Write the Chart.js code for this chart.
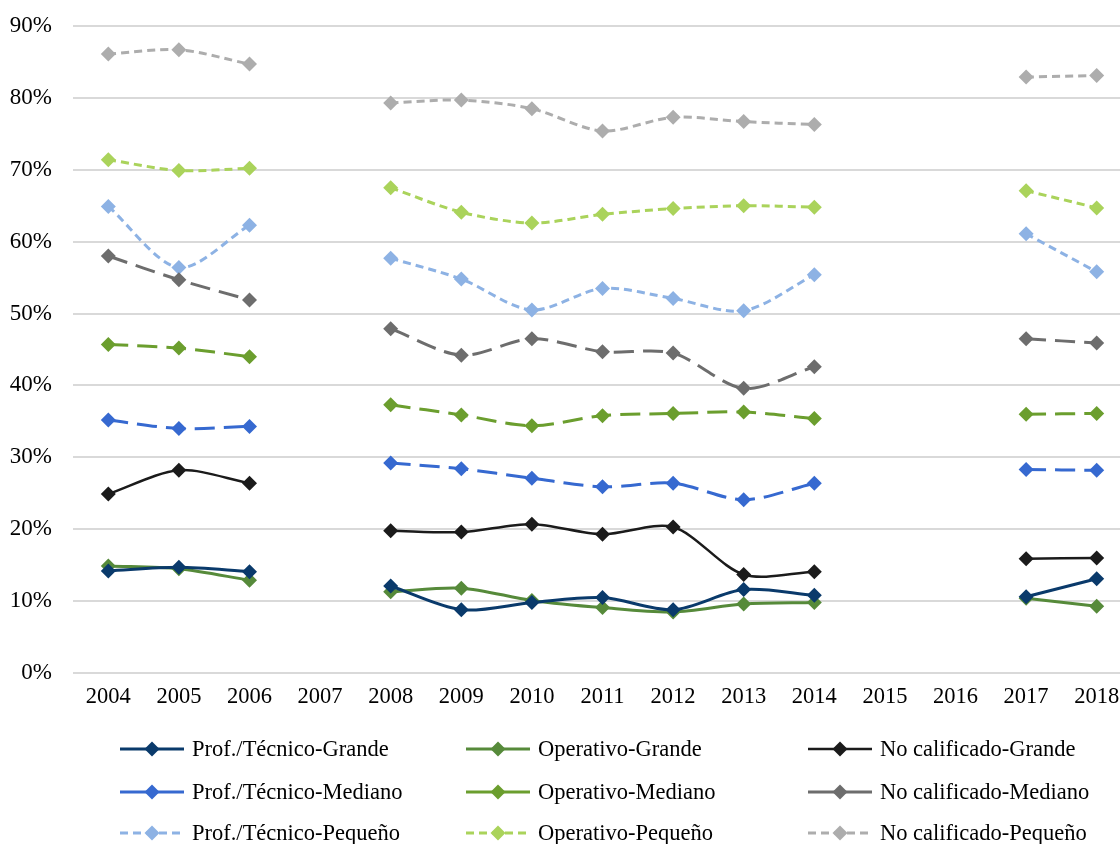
<!DOCTYPE html>
<html>
<head>
<meta charset="utf-8">
<script src="https://cdn.jsdelivr.net/npm/chart.js@4"></script>
<style>
  html, body { margin: 0; padding: 0; background: #fff; overflow: hidden; }
  #grafico { display: block; }
</style>
</head>
<body>
<canvas id="grafico" width="1160" height="844"></canvas>
<script>
// Años (sin datos en 2007, 2015 y 2016)
const anios = ["2004", "2005", "2006", "2007", "2008", "2009", "2010", "2011", "2012", "2013", "2014", "2015", "2016", "2017", "2018"];

// Porcentajes por ocupación y tamaño de empresa
const profGrande     = [14.2, 14.7, 14.1, null, 12.1, 8.8, 9.8, 10.5, 8.8, 11.6, 10.8, null, null, 10.6, 13.1];
const operGrande     = [14.9, 14.5, 12.9, null, 11.3, 11.8, 10.1, 9.1, 8.5, 9.6, 9.8, null, null, 10.4, 9.3];
const noCalGrande    = [24.9, 28.2, 26.4, null, 19.8, 19.6, 20.7, 19.3, 20.3, 13.7, 14.1, null, null, 15.9, 16.0];
const profMediano    = [35.2, 34.0, 34.3, null, 29.2, 28.4, 27.1, 25.9, 26.4, 24.1, 26.4, null, null, 28.3, 28.2];
const operMediano    = [45.7, 45.2, 44.0, null, 37.3, 35.9, 34.4, 35.8, 36.1, 36.3, 35.4, null, null, 36.0, 36.1];
const noCalMediano   = [58.0, 54.7, 51.9, null, 47.9, 44.2, 46.5, 44.7, 44.5, 39.6, 42.6, null, null, 46.5, 45.9];
const profPequeno    = [64.9, 56.4, 62.3, null, 57.7, 54.8, 50.5, 53.5, 52.1, 50.4, 55.4, null, null, 61.1, 55.8];
const operPequeno    = [71.4, 69.9, 70.2, null, 67.5, 64.1, 62.6, 63.8, 64.6, 65.0, 64.8, null, null, 67.1, 64.7];
const noCalPequeno   = [86.1, 86.7, 84.7, null, 79.3, 79.7, 78.5, 75.4, 77.3, 76.7, 76.3, null, null, 82.9, 83.1];

const fuente = "'Liberation Serif', 'Times New Roman', serif";

const serie = (label, data, color, dash) => ({
    label: label,
    data: data,
    borderColor: color,
    backgroundColor: color,
    borderWidth: 3,
    borderDash: dash,
    pointStyle: "rectRot",
    pointRadius: 7.5,
    pointHoverRadius: 7.5,
    pointBorderWidth: 0,
    tension: 0.3,
    spanGaps: false
});

const dashMediano = [20, 9];
const dashPequeno = [8, 5];

const datasets = [
    serie("Prof./Técnico-Grande", profGrande, "#0a3a6b", []),
    serie("Operativo-Grande", operGrande, "#568a3a", []),
    serie("No calificado-Grande", noCalGrande, "#1b1b1b", []),
    serie("Prof./Técnico-Mediano", profMediano, "#3669d0", dashMediano),
    serie("Operativo-Mediano", operMediano, "#6b9e2e", dashMediano),
    serie("No calificado-Mediano", noCalMediano, "#6d6d6d", dashMediano),
    serie("Prof./Técnico-Pequeño", profPequeno, "#8db2e4", dashPequeno),
    serie("Operativo-Pequeño", operPequeno, "#aad35b", dashPequeno),
    serie("No calificado-Pequeño", noCalPequeno, "#adadad", dashPequeno)
];
// la línea negra es más fina
datasets[2].borderWidth = 2.5;

// Leyenda en tres columnas debajo del gráfico
const leyenda = {
    id: "leyendaColumnas",
    afterDraw(chart) {
        const ctx = chart.ctx;
        const colX = [120, 466, 808];
        const filaY = [749, 792, 833];
        ctx.save();
        ctx.font = "22.5px " + fuente;
        ctx.textBaseline = "middle";
        ctx.fillStyle = "#000";
        chart.data.datasets.forEach((ds, i) => {
            const x = colX[i % 3];
            const y = filaY[Math.floor(i / 3)];
            ctx.strokeStyle = ds.borderColor;
            ctx.lineWidth = ds.borderWidth;
            ctx.setLineDash(ds.borderDash.length > 0 && ds.borderDash[0] > 10 ? [] : ds.borderDash);
            ctx.beginPath();
            ctx.moveTo(x, y);
            ctx.lineTo(x + 64, y);
            ctx.stroke();
            ctx.setLineDash([]);
            ctx.fillStyle = ds.backgroundColor;
            ctx.beginPath();
            ctx.moveTo(x + 32, y - 7.5);
            ctx.lineTo(x + 39.5, y);
            ctx.lineTo(x + 32, y + 7.5);
            ctx.lineTo(x + 24.5, y);
            ctx.closePath();
            ctx.fill();
            ctx.fillStyle = "#000";
            ctx.fillText(ds.label, x + 72, y + 1);
        });
        ctx.restore();
    }
};

const init = () => {
    const ctx = document.getElementById("grafico").getContext("2d");
    new Chart(ctx, {
        type: "line",
        data: { labels: anios, datasets: datasets },
        plugins: [leyenda],
        options: {
            responsive: false,
            animation: false,
            layout: { padding: { top: 26, right: 28, left: 0, bottom: 0 } },
            plugins: {
                legend: { display: false },
                tooltip: { enabled: false }
            },
            scales: {
                x: {
                    offset: true,
                    grid: { display: false, drawTicks: false },
                    border: { display: false },
                    ticks: {
                        color: "#000",
                        padding: 11,
                        maxRotation: 0,
                        autoSkip: false,
                        font: { family: fuente, size: 22.5 }
                    },
                    afterFit: (scale) => {
                        scale.height = 171;
                        scale.paddingLeft = 0;
                        scale.paddingRight = 0;
                    }
                },
                y: {
                    min: 0,
                    max: 90,
                    grid: { color: "#d9d9d9", lineWidth: 2, drawTicks: false },
                    border: { display: false },
                    ticks: {
                        stepSize: 10,
                        color: "#000",
                        padding: 21,
                        font: { family: fuente, size: 23 },
                        callback: (v) => v + "%"
                    },
                    afterFit: (scale) => {
                        scale.width = 73;
                        scale.paddingTop = 0;
                        scale.paddingBottom = 0;
                    }
                }
            }
        }
    });
};

window.addEventListener("load", init);
</script>
</body>
</html>
